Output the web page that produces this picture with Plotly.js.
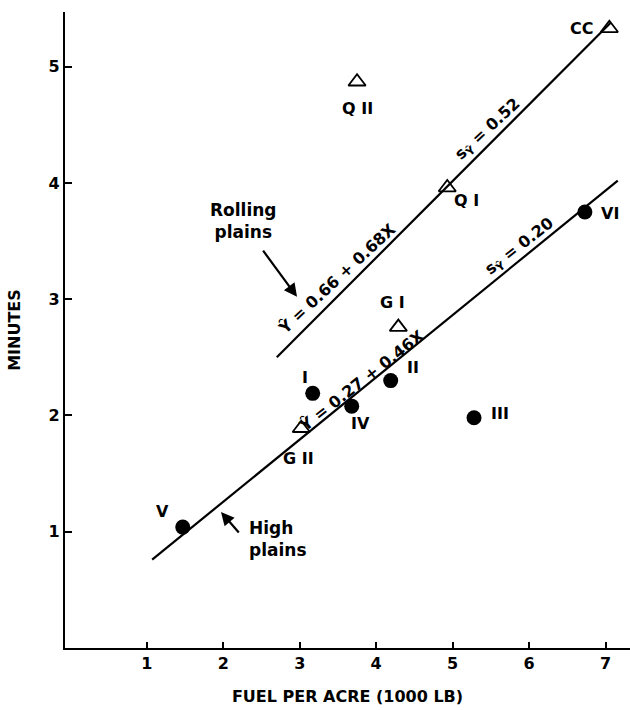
<!DOCTYPE html>
<html>
<head>
<meta charset="utf-8">
<script src="https://cdn.plot.ly/plotly-3.0.1.min.js"></script>
<style>html,body{margin:0;padding:0;background:#fff;}#chart{width:630px;height:710px;}</style>
</head>
<body>
<div id="chart"></div>
<script>
// High plains (filled circles)
const highNames = ["V", "I", "IV", "II", "III", "VI"];
const highFuel = [1.47, 3.17, 3.68, 4.19, 5.28, 6.73];
const highMinutes = [1.04, 2.19, 2.08, 2.30, 1.98, 3.75];

// Rolling plains (open triangles)
const rollNames = ["G II", "G I", "Q I", "Q II", "CC"];
const rollFuel = [3.02, 4.29, 4.93, 3.75, 7.05];
const rollMinutes = [1.89, 2.76, 3.96, 4.87, 5.33];

// Fitted lines as drawn
const highLineX = [1.07, 7.16];
const highLineY = [0.76, 4.02];
const rollLineX = [2.70, 7.07];
const rollLineY = [2.50, 5.38];

const xTicks = [1, 2, 3, 4, 5, 6, 7];
const yTicks = [1, 2, 3, 4, 5];

const F = "DejaVu Sans, Verdana, sans-serif";
const black = "#000";

const traces = [
  {x: highLineX, y: highLineY, mode: "lines", line: {color: black, width: 2.2}, hoverinfo: "skip", showlegend: false},
  {x: rollLineX, y: rollLineY, mode: "lines", line: {color: black, width: 2.2}, hoverinfo: "skip", showlegend: false},
  {x: highFuel, y: highMinutes, mode: "markers", text: highNames,
   marker: {symbol: "circle", size: 15, color: black}, showlegend: false},
  {x: rollFuel, y: rollMinutes, mode: "markers", text: rollNames,
   marker: {symbol: "triangle-up-open", size: 15, color: black, line: {width: 1.8, color: black}}, showlegend: false}
];

// point label positions (data coords)
const pointLabels = [
  {t: "V", x: 1.21, y: 1.17},
  {t: "I", x: 3.07, y: 2.33},
  {t: "IV", x: 3.79, y: 1.93},
  {t: "II", x: 4.48, y: 2.41},
  {t: "III", x: 5.62, y: 2.02},
  {t: "VI", x: 7.06, y: 3.74},
  {t: "G II", x: 2.99, y: 1.63},
  {t: "G I", x: 4.22, y: 2.97},
  {t: "Q I", x: 5.18, y: 3.85},
  {t: "Q II", x: 3.75, y: 4.64},
  {t: "CC", x: 6.68, y: 5.33}
];

const annotations = pointLabels.map(p => ({
  x: p.x, y: p.y, xref: "x", yref: "y", text: "<b>" + p.t + "</b>", showarrow: false,
  font: {family: F, size: 16, color: black}, xanchor: "center", yanchor: "middle"
}));

annotations.push(
  {x: 2.26, y: 3.67, xref: "x", yref: "y", text: "<b>Rolling<br>plains</b>", showarrow: false,
   font: {family: F, size: 17, color: black}, align: "center"},
  {x: 2.965, y: 3.02, ax: 2.507, ay: 3.43, xref: "x", yref: "y", axref: "x", ayref: "y",
   text: "", showarrow: true, arrowhead: 2, arrowsize: 1.2, arrowwidth: 2.2, arrowcolor: black},
  {x: 2.31, y: 0.94, xref: "x", yref: "y", text: "<b>High<br>plains</b>", showarrow: false,
   font: {family: F, size: 17, color: black}, align: "left", xanchor: "left"},
  {x: 1.97, y: 1.17, ax: 2.22, ay: 0.98, xref: "x", yref: "y", axref: "x", ayref: "y",
   text: "", showarrow: true, arrowhead: 2, arrowsize: 1.2, arrowwidth: 2.2, arrowcolor: black},
  {x: 3.49, y: 3.18, xref: "x", yref: "y", text: "<b>Ŷ = 0.66 + 0.68X</b>", showarrow: false,
   textangle: -43, font: {family: F, size: 16, color: black}},
  {x: 5.46, y: 4.46, xref: "x", yref: "y", text: "<b>s<sub>Ŷ</sub> = 0.52</b>", showarrow: false,
   textangle: -43, font: {family: F, size: 16, color: black}},
  {x: 3.815, y: 2.30, xref: "x", yref: "y", text: "<b>Ŷ = 0.27 + 0.46X</b>", showarrow: false,
   textangle: -38, font: {family: F, size: 16, color: black}},
  {x: 5.88, y: 3.45, xref: "x", yref: "y", text: "<b>s<sub>Ŷ</sub> = 0.20</b>", showarrow: false,
   textangle: -38, font: {family: F, size: 16, color: black}}
);

const layout = {
  width: 630, height: 710,
  margin: {l: 65, r: 0, t: 12, b: 62},
  paper_bgcolor: "#fff", plot_bgcolor: "#fff",
  font: {family: F, color: black},
  xaxis: {
    range: [-0.07, 7.32], tickvals: xTicks, ticktext: xTicks.map(v => "<b>" + v + "</b>"),
    ticks: "inside", ticklen: 6, tickwidth: 2, tickcolor: black,
    showline: true, linewidth: 2.2, linecolor: black, zeroline: false, showgrid: false,
    tickfont: {family: F, size: 16, color: black},
    title: {text: "<b>FUEL PER ACRE (1000 LB)</b>", font: {family: F, size: 16, color: black}, standoff: 18}
  },
  yaxis: {
    range: [0, 5.47], tickvals: yTicks, ticktext: yTicks.map(v => "<b>" + v + "</b>"),
    ticks: "inside", ticklen: 7, tickwidth: 2, tickcolor: black,
    showline: true, linewidth: 2.2, linecolor: black, zeroline: false, showgrid: false,
    tickfont: {family: F, size: 16, color: black},
    title: {text: "<b>MINUTES</b>", font: {family: F, size: 16, color: black}, standoff: 24}
  },
  annotations: annotations,
  showlegend: false
};

Plotly.newPlot("chart", traces, layout, {displayModeBar: false, staticPlot: true});
</script>
</body>
</html>
